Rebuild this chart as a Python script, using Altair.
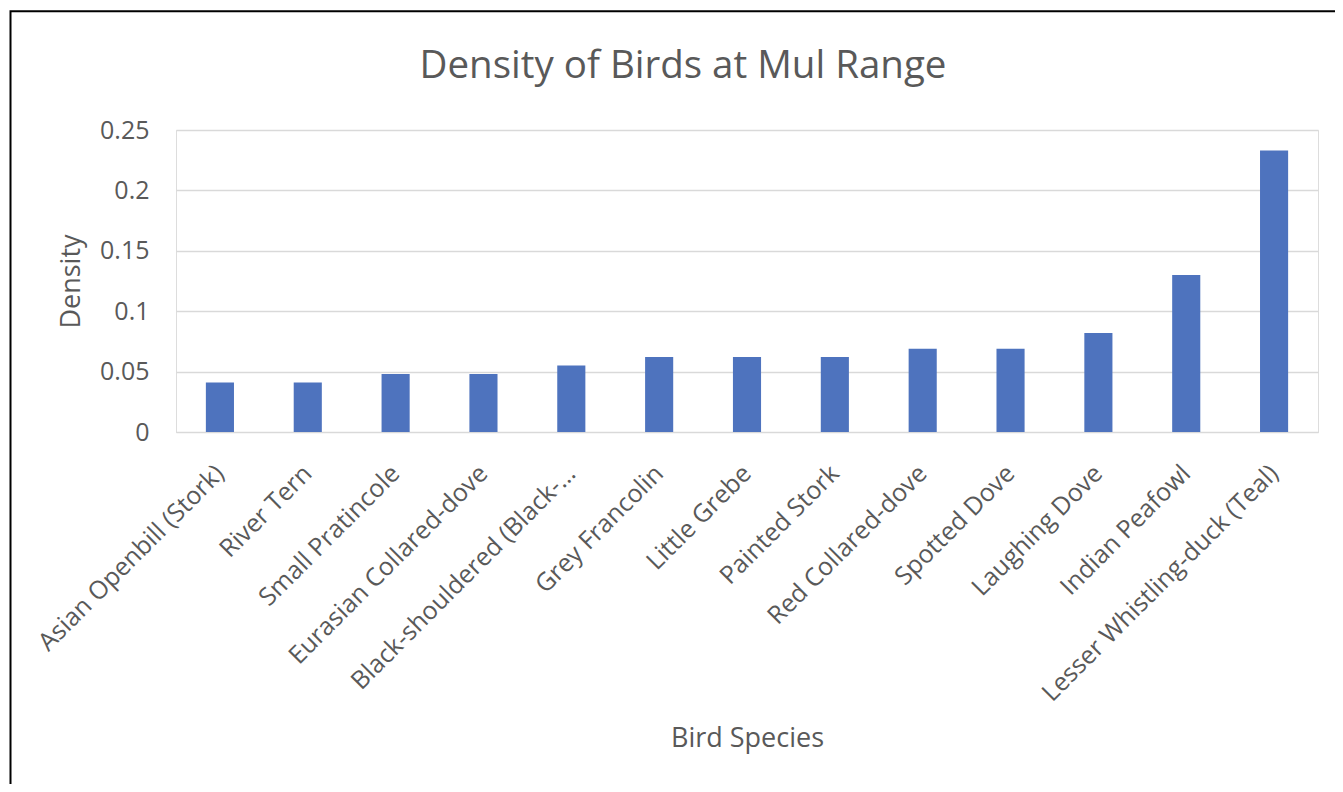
import altair as alt
import pandas as pd

species = [
    "Asian Openbill (Stork)",
    "River Tern",
    "Small Pratincole",
    "Eurasian Collared-dove",
    "Black-shouldered (Black-…",
    "Grey Francolin",
    "Little Grebe",
    "Painted Stork",
    "Red Collared-dove",
    "Spotted Dove",
    "Laughing Dove",
    "Indian Peafowl",
    "Lesser Whistling-duck (Teal)",
]
density = [0.041, 0.041, 0.048, 0.048, 0.055, 0.062, 0.062, 0.062,
           0.069, 0.069, 0.082, 0.130, 0.233]
y_ticks = [0, 0.05, 0.1, 0.15, 0.2, 0.25]

df = pd.DataFrame({"species": species, "density": density})

FONT = "Open Sans"
TXT = "#595959"
W, H = 1142, 302

bars = alt.Chart(df).mark_bar(color="#4E73BE").encode(
    x=alt.X(
        "species:N",
        sort=species,
        scale=alt.Scale(paddingInner=0.68, paddingOuter=0.34),
        axis=alt.Axis(
            title="Bird Species",
            labelAngle=-45,
            labelAlign="right",
            labelBaseline="middle",
            labelPadding=37,
            labelFontSize=25,
            labelColor=TXT,
            labelFont=FONT,
            labelLimit=0,
            ticks=False,
            domainColor="#D9D9D9",
            domainWidth=1.2,
            titleFont=FONT,
            titleFontSize=27,
            titleFontWeight="normal",
            titleColor=TXT,
            titleX=W / 2,
            titleY=306,
            titleBaseline="middle",
            titleAlign="center",
        ),
    ),
    y=alt.Y(
        "density:Q",
        scale=alt.Scale(domain=[0, 0.25], nice=False, zero=True),
        axis=alt.Axis(
            title="Density",
            values=y_ticks,
            format="~g",
            labelFontSize=25,
            labelColor=TXT,
            labelFont=FONT,
            labelPadding=27,
            ticks=False,
            domain=False,
            grid=True,
            gridColor="#D9D9D9",
            gridWidth=1.3,
            titleFont=FONT,
            titleFontSize=27,
            titleFontWeight="normal",
            titleColor=TXT,
            titleX=-105,
            titleY=H / 2,
            titleBaseline="middle",
            titleAlign="center",
            titleAngle=-90,
        ),
    ),
)

frame = alt.Chart(pd.DataFrame({"k": [0]})).mark_rect(
    fill="transparent", stroke="black", strokeWidth=2
).encode(
    x=alt.value(-165.5),
    y=alt.value(-118.8),
    x2=alt.value(W + 200),
    y2=alt.value(H + 600),
)

chart = alt.layer(frame, bars).properties(
    width=W,
    height=H,
    padding={"left": 168, "top": 122, "right": 17, "bottom": 352},
    autosize=alt.AutoSizeParams(type="none"),
    title=alt.TitleParams(
        "Density of Birds at Mul Range",
        font=FONT,
        fontSize=38.5,
        fontWeight="normal",
        color=TXT,
        anchor="middle",
        dx=-64,
        offset=-106,
        baseline="alphabetic",
    ),
).configure_view(stroke=None).configure(background="white")

chart.save("out.html", embed_options={"renderer": "svg", "actions": False})
